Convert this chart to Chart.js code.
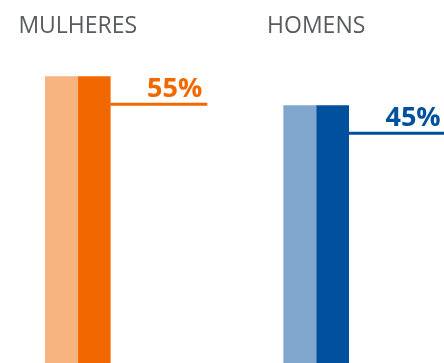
<!DOCTYPE html>
<html>
<head>
<meta charset="utf-8">
<script src="https://cdn.jsdelivr.net/npm/chart.js@4/dist/chart.umd.min.js"></script>
<style>
  html, body { margin: 0; padding: 0; background: #ffffff; }
  #wrap { width: 444px; height: 363px; }
</style>
</head>
<body>
<div id="wrap"><canvas id="grafico" width="444" height="363"></canvas></div>
<script>
// Dados do gráfico
const categorias = ['MULHERES', 'HOMENS'];
const percentuais = [55, 45];
const coresClaras = ['#F8B47F', '#80A6CE'];
const coresEscuras = ['#F26800', '#00509D'];

// Limites do eixo de valores (as barras partem do fundo)
const eixoMin = -44;
const eixoMax = 66.4;

// Rótulo de percentual com linha de destaque à direita da barra escura
const rotuloPercentual = {
    id: 'rotuloPercentual',
    afterDatasetsDraw(chart) {
        const ctx = chart.ctx;
        const meta = chart.getDatasetMeta(1);
        meta.data.forEach((bar, i) => {
            const inicio = bar.x + bar.width / 2;
            const fim = inicio + 97;
            const linhaY = bar.y + 27.7;
            ctx.save();
            ctx.strokeStyle = coresEscuras[i];
            ctx.lineWidth = 3;
            ctx.beginPath();
            ctx.moveTo(inicio, linhaY);
            ctx.lineTo(fim, linhaY);
            ctx.stroke();
            ctx.fillStyle = coresEscuras[i];
            ctx.font = 'bold 27px "Open Sans"';
            ctx.textAlign = 'right';
            ctx.textBaseline = 'alphabetic';
            ctx.fillText(percentuais[i] + '%', fim - 5, linhaY - 7);
            ctx.restore();
        });
    }
};

const pontos = percentuais.map((v, i) => ({ x: i, y: v }));

new Chart(document.getElementById('grafico'), {
    type: 'bar',
    data: {
        datasets: [
            {
                data: pontos,
                backgroundColor: coresClaras,
                base: eixoMin,
                barThickness: 32.5,
                borderWidth: 0
            },
            {
                data: pontos,
                backgroundColor: coresEscuras,
                base: eixoMin,
                barThickness: 32.5,
                borderWidth: 0
            }
        ]
    },
    options: {
        responsive: false,
        animation: false,
        devicePixelRatio: 1,
        layout: { padding: { top: 10, left: 0, right: 0, bottom: 0 } },
        plugins: {
            legend: { display: false },
            tooltip: { enabled: false }
        },
        scales: {
            x: {
                type: 'linear',
                position: 'top',
                offset: false,
                min: -0.3263,
                max: 1.5361,
                afterBuildTicks: axis => {
                    axis.ticks = categorias.map((c, i) => ({ value: i }));
                },
                ticks: {
                    autoSkip: false,
                    maxRotation: 0,
                    padding: 3,
                    color: '#5A5B5D',
                    font: { family: 'Open Sans', size: 23 },
                    callback: (value, index) => categorias[index]
                },
                grid: { display: false, drawTicks: false },
                border: { display: false }
            },
            y: {
                display: false,
                min: eixoMin,
                max: eixoMax
            }
        }
    },
    plugins: [rotuloPercentual]
});
</script>
</body>
</html>
